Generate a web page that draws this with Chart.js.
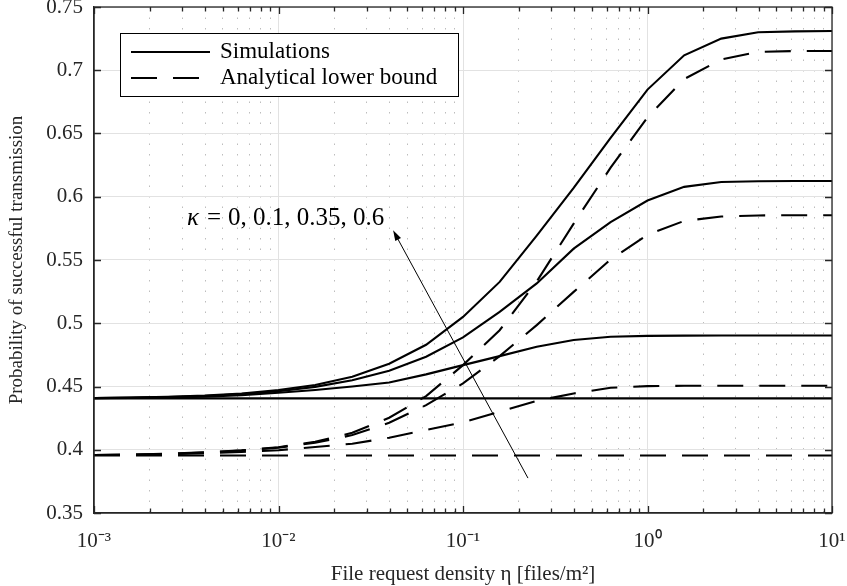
<!DOCTYPE html>
<html>
<head>
<meta charset="utf-8">
<script src="https://cdn.jsdelivr.net/npm/chart.js@4.4.1/dist/chart.umd.min.js"></script>
<style>
  html, body { margin: 0; padding: 0; background: #fff; }
</style>
</head>
<body>
<canvas id="chart" width="847" height="586"></canvas>
<script>
// file request density (x), 5 points per decade
const eta = [0.001, 0.00158, 0.00251, 0.00398, 0.00631, 0.01, 0.0158, 0.0251, 0.0398, 0.0631,
  0.1, 0.158, 0.251, 0.398, 0.631, 1, 1.58, 2.51, 3.98, 6.31, 10];

// simulations, kappa = 0, 0.1, 0.35, 0.6
const sim0 = [0.4406, 0.4406, 0.4406, 0.4406, 0.4406, 0.4406, 0.4406, 0.4406, 0.4406, 0.4406,
  0.4406, 0.4406, 0.4406, 0.4406, 0.4406, 0.4406, 0.4406, 0.4406, 0.4406, 0.4406, 0.4406];
const sim01 = [0.4408, 0.441, 0.4414, 0.442, 0.4432, 0.445, 0.4472, 0.450, 0.4532, 0.4596,
  0.4669, 0.474, 0.4814, 0.4867, 0.4893, 0.490, 0.4902, 0.4903, 0.4903, 0.4903, 0.4903];
const sim035 = [0.4408, 0.4411, 0.4416, 0.4425, 0.444, 0.4463, 0.4497, 0.455, 0.4624, 0.4735,
  0.4888, 0.509, 0.5315, 0.559, 0.580, 0.597, 0.6078, 0.6117, 0.6123, 0.6124, 0.6124];
const sim06 = [0.4409, 0.4412, 0.4418, 0.4428, 0.4445, 0.4472, 0.4512, 0.4577, 0.468, 0.483,
  0.505, 0.5327, 0.5693, 0.607, 0.6465, 0.6847, 0.7118, 0.725, 0.730, 0.7307, 0.731];

// analytical lower bound, kappa = 0, 0.1, 0.35, 0.6
const lb0 = [0.3955, 0.3955, 0.3955, 0.3955, 0.3955, 0.3955, 0.3955, 0.3955, 0.3955, 0.3955,
  0.3955, 0.3955, 0.3955, 0.3955, 0.3955, 0.3955, 0.3955, 0.3955, 0.3955, 0.3955, 0.3955];
const lb01 = [0.3958, 0.396, 0.3965, 0.3972, 0.3982, 0.3996, 0.4022, 0.4048, 0.4095, 0.4156,
  0.4216, 0.430, 0.4387, 0.4445, 0.449, 0.4503, 0.4506, 0.4506, 0.4506, 0.4506, 0.4506];
const lb035 = [0.3958, 0.3961, 0.3967, 0.3978, 0.3993, 0.4017, 0.4055, 0.4116, 0.4213, 0.4353,
  0.4524, 0.474, 0.4985, 0.5248, 0.5504, 0.570, 0.5809, 0.5844, 0.5852, 0.5854, 0.5854];
const lb06 = [0.3958, 0.3962, 0.3968, 0.398, 0.3995, 0.402, 0.4063, 0.4134, 0.4253, 0.4424,
  0.4669, 0.4945, 0.533, 0.5788, 0.623, 0.6628, 0.693, 0.7085, 0.7145, 0.7152, 0.7152];

// axis ticks
const xTicks = [0.001, 0.002, 0.003, 0.004, 0.005, 0.006, 0.007, 0.008, 0.009,
  0.01, 0.02, 0.03, 0.04, 0.05, 0.06, 0.07, 0.08, 0.09,
  0.1, 0.2, 0.3, 0.4, 0.5, 0.6, 0.7, 0.8, 0.9,
  1, 2, 3, 4, 5, 6, 7, 8, 9, 10];
const xMajor = [0.001, 0.01, 0.1, 1, 10];
const xTickLabels = ['10⁻³', '10⁻²', '10⁻¹', '10⁰', '10¹'];
const yTicks = [0.35, 0.4, 0.45, 0.5, 0.55, 0.6, 0.65, 0.7, 0.75];
const yTickLabels = ['0.35', '0.4', '0.45', '0.5', '0.55', '0.6', '0.65', '0.7', '0.75'];

// annotation: arrow tail/head and label anchor in data coordinates
const arrowFrom = [0.225, 0.3776];
const arrowTo = [0.0418, 0.5735];
const kappaAnchor = [0.00319, 0.583];

const SERIF = '"Liberation Serif", "Times New Roman", serif';
const DASH = [26, 16];

const majorIndex = v => xMajor.findIndex(m => Math.abs(Math.log10(v) - Math.log10(m)) < 1e-6);

function line(label, values, dashed) {
  return {
    label,
    data: eta.map((x, i) => ({ x, y: values[i] })),
    borderColor: '#000',
    borderWidth: 2.1,
    borderDash: dashed ? DASH : [],
    pointRadius: 0,
    tension: 0,
    fill: false,
  };
}

const frame = {
  id: 'frame',
  afterDraw(chart) {
    const { ctx, chartArea: a, scales: { x, y } } = chart;
    ctx.save();
    ctx.strokeStyle = '#262626';
    ctx.lineWidth = 1.3;
    ctx.beginPath();
    xTicks.forEach(v => {
      const px = Math.round(x.getPixelForValue(v)) + 0.5;
      const len = majorIndex(v) >= 0 ? 7 : 4.5;
      ctx.moveTo(px, a.bottom); ctx.lineTo(px, a.bottom - len);
      ctx.moveTo(px, a.top); ctx.lineTo(px, a.top + len);
    });
    yTicks.forEach(v => {
      const py = Math.round(y.getPixelForValue(v)) + 0.5;
      ctx.moveTo(a.left, py); ctx.lineTo(a.left + 7, py);
      ctx.moveTo(a.right, py); ctx.lineTo(a.right - 7, py);
    });
    ctx.stroke();
    ctx.strokeRect(a.left, a.top, a.right - a.left, a.bottom - a.top);

    // arrow
    const x0 = x.getPixelForValue(arrowFrom[0]), y0 = y.getPixelForValue(arrowFrom[1]);
    const x1 = x.getPixelForValue(arrowTo[0]), y1 = y.getPixelForValue(arrowTo[1]);
    const ang = Math.atan2(y1 - y0, x1 - x0);
    ctx.strokeStyle = '#000';
    ctx.lineWidth = 1;
    ctx.beginPath();
    ctx.moveTo(x0, y0);
    ctx.lineTo(x1 - 8 * Math.cos(ang), y1 - 8 * Math.sin(ang));
    ctx.stroke();
    ctx.fillStyle = '#000';
    ctx.beginPath();
    ctx.moveTo(x1, y1);
    ctx.lineTo(x1 - 11 * Math.cos(ang - 0.3), y1 - 11 * Math.sin(ang - 0.3));
    ctx.lineTo(x1 - 11 * Math.cos(ang + 0.3), y1 - 11 * Math.sin(ang + 0.3));
    ctx.closePath();
    ctx.fill();

    // kappa label
    const kx = x.getPixelForValue(kappaAnchor[0]), ky = y.getPixelForValue(kappaAnchor[1]);
    ctx.textBaseline = 'middle';
    ctx.textAlign = 'left';
    ctx.font = 'italic 25px ' + SERIF;
    ctx.fillText('κ', kx, ky);
    const kw = ctx.measureText('κ').width;
    ctx.font = '25px ' + SERIF;
    ctx.fillText('=', kx + kw + 8, ky);
    const ew = ctx.measureText('=').width;
    ctx.fillText('0, 0.1, 0.35, 0.6', kx + kw + ew + 15, ky);

    // legend box
    const L = 120, T = 33, R = 458, B = 96;
    ctx.fillStyle = '#fff';
    ctx.fillRect(L, T, R - L, B - T);
    ctx.strokeStyle = '#000';
    ctx.lineWidth = 1;
    ctx.strokeRect(L + 0.5, T + 0.5, R - L, B - T);
    ctx.lineWidth = 2.1;
    [[52, [], 'Simulations'], [78, DASH, 'Analytical lower bound']].forEach(([ly, dash, text]) => {
      ctx.setLineDash(dash);
      ctx.beginPath();
      ctx.moveTo(131, ly); ctx.lineTo(210, ly);
      ctx.stroke();
      ctx.setLineDash([]);
      ctx.fillStyle = '#000';
      ctx.font = '23px ' + SERIF;
      ctx.fillText(text, 220, ly);
    });
    ctx.restore();
  },
};

new Chart(document.getElementById('chart'), {
  type: 'line',
  data: {
    datasets: [
      line('Simulations, κ = 0', sim0, false),
      line('Simulations, κ = 0.1', sim01, false),
      line('Simulations, κ = 0.35', sim035, false),
      line('Simulations, κ = 0.6', sim06, false),
      line('Analytical lower bound, κ = 0', lb0, true),
      line('Analytical lower bound, κ = 0.1', lb01, true),
      line('Analytical lower bound, κ = 0.35', lb035, true),
      line('Analytical lower bound, κ = 0.6', lb06, true),
    ],
  },
  options: {
    responsive: false,
    animation: false,
    layout: { padding: { top: 7, right: 15, left: 0, bottom: 0 } },
    plugins: { legend: { display: false }, tooltip: { enabled: false } },
    scales: {
      x: {
        type: 'logarithmic',
        min: 0.001,
        max: 10,
        afterFit: s => { s.height = 73; s.paddingLeft = 0; s.paddingRight = 0; },
        afterBuildTicks: s => { s.ticks = xTicks.map(v => ({ value: v })); },
        ticks: {
          autoSkip: false,
          maxRotation: 0,
          padding: 16,
          color: '#262626',
          font: { family: SERIF, size: 21 },
          callback: v => {
            const i = majorIndex(v);
            return i >= 0 ? xTickLabels[i] : '';
          },
        },
        grid: {
          drawTicks: false,
          lineWidth: 1,
          color: c => (c.tick && majorIndex(c.tick.value) < 0 ? '#bdbdbd' : '#e2e2e2'),
        },
        border: {
          color: '#262626',
          width: 1.3,
          dash: c => (c.tick && majorIndex(c.tick.value) < 0 ? [1.5, 9] : []),
        },
        title: {
          display: true,
          text: 'File request density η [files/m²]',
          color: '#262626',
          font: { family: SERIF, size: 21, lineHeight: 1 },
          padding: { top: 0, bottom: 1 },
        },
      },
      y: {
        type: 'linear',
        min: 0.35,
        max: 0.75,
        afterFit: s => { s.width = 94; s.paddingTop = 0; s.paddingBottom = 0; },
        afterBuildTicks: s => { s.ticks = yTicks.map(v => ({ value: v })); },
        ticks: {
          padding: 11,
          color: '#262626',
          font: { family: SERIF, size: 21 },
          callback: (v, i) => yTickLabels[i],
        },
        grid: { drawTicks: false, color: '#e2e2e2', lineWidth: 1 },
        border: { color: '#262626', width: 1.3 },
        title: {
          display: true,
          text: 'Probability of successful transmission',
          color: '#262626',
          font: { family: SERIF, size: 19 },
          padding: { top: 6, bottom: 0 },
        },
      },
    },
  },
  plugins: [frame],
});
</script>
</body>
</html>
